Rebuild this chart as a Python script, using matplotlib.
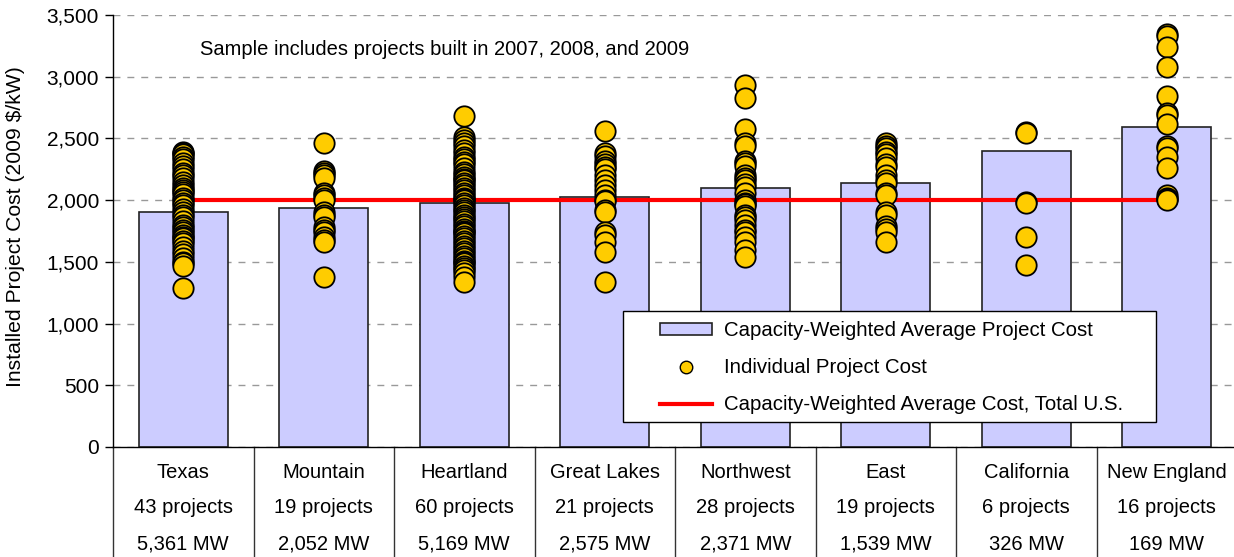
import matplotlib
matplotlib.use("Agg")
import matplotlib.pyplot as plt
from matplotlib import transforms
from matplotlib.lines import Line2D
from matplotlib.patches import Patch, Rectangle
from matplotlib.ticker import FuncFormatter

plt.rcParams["font.family"] = ["Liberation Sans", "DejaVu Sans"]

# --- data ---
regions = ["Texas", "Mountain", "Heartland", "Great Lakes", "Northwest",
           "East", "California", "New England"]
n_projects = ["43 projects", "19 projects", "60 projects", "21 projects",
              "28 projects", "19 projects", "6 projects", "16 projects"]
capacity = ["5,361 MW", "2,052 MW", "5,169 MW", "2,575 MW", "2,371 MW",
            "1,539 MW", "326 MW", "169 MW"]
avg_cost = [1900, 1940, 1975, 2025, 2100, 2140, 2400, 2590]
us_avg = 2000

texas = [2390, 2380, 2370, 2350, 2330, 2300, 2280, 2250, 2220, 2200, 2180,
         2150, 2120, 2100, 2080, 2070, 2050, 2020, 2000, 1980, 1960, 1930,
         1900, 1880, 1860, 1830, 1800, 1780, 1760, 1740, 1720, 1700, 1690,
         1670, 1650, 1620, 1590, 1560, 1530, 1500, 1490, 1470, 1290]
mountain = [2460, 2240, 2220, 2200, 2180, 2060, 2040, 2020, 2000, 1900,
            1880, 1860, 1780, 1760, 1740, 1700, 1680, 1660, 1380]
heartland = [2680, 2510, 2490, 2460, 2440, 2410, 2380, 2350, 2330, 2310,
             2290, 2260, 2230, 2210, 2190, 2170, 2160, 2140, 2120, 2100,
             2080, 2060, 2040, 2020, 2010, 2000, 1980, 1960, 1940, 1920,
             1900, 1880, 1860, 1850, 1830, 1810, 1790, 1770, 1750, 1740,
             1730, 1710, 1690, 1670, 1650, 1630, 1610, 1590, 1570, 1550,
             1530, 1510, 1500, 1490, 1470, 1450, 1430, 1410, 1380, 1340]
great_lakes = [2560, 2380, 2360, 2320, 2290, 2270, 2250, 2200, 2160, 2120,
               2080, 2040, 2000, 1990, 1920, 1900, 1740, 1720, 1660, 1580,
               1340]
northwest = [2930, 2830, 2580, 2460, 2440, 2320, 2300, 2280, 2200, 2180,
             2160, 2130, 2110, 2060, 2000, 1980, 1970, 1950, 1880, 1860,
             1840, 1800, 1760, 1740, 1700, 1660, 1600, 1540]
east = [2460, 2440, 2420, 2390, 2370, 2340, 2290, 2270, 2200, 2160, 2140,
        2060, 2040, 1900, 1880, 1790, 1770, 1740, 1660]
california = [2555, 2540, 1985, 1980, 1700, 1475]
new_england = [3350, 3330, 3240, 3080, 2840, 2710, 2690, 2620, 2440, 2420,
               2350, 2260, 2040, 2020, 2010, 2005]
project_costs = [texas, mountain, heartland, great_lakes, northwest, east,
                 california, new_england]

x = list(range(len(regions)))

fig = plt.figure(figsize=(12.34, 5.57), dpi=100)
ax = fig.add_axes([113 / 1234, 1 - 447 / 557, 1124 / 1234, 432 / 557])

ax.bar(x, avg_cost, width=0.63, color="#CCCCFF", edgecolor="#222222",
       linewidth=1.2, zorder=2)
ax.plot([x[0], x[-1]], [us_avg, us_avg], color="#FF0000", lw=3, zorder=3)
for i, vals in enumerate(project_costs):
    ax.scatter([i] * len(vals), vals, s=215, color="#FFCC00",
               edgecolor="black", linewidth=1.3, zorder=4)

ax.set_xlim(-0.5, len(regions) - 0.5)
ax.set_ylim(0, 3500)
ax.set_yticks(range(0, 3501, 500))
ax.yaxis.set_major_formatter(FuncFormatter(lambda v, p: f"{int(v):,}"))
ax.tick_params(axis="y", labelsize=15, length=6, width=1, pad=4)
ax.set_xticks([])
ax.grid(axis="y", color="#999999", linestyle=(0, (5, 5)), lw=1, zorder=0)
ax.set_axisbelow(True)
for side in ["top", "right"]:
    ax.spines[side].set_visible(False)
ax.spines["left"].set_linewidth(1)
ax.spines["bottom"].set_linewidth(1)
ax.set_ylabel("Installed Project Cost (2009 $/kW)", fontsize=15.2,
              va="center")
ax.yaxis.set_label_coords(-0.087, 0.51)

# table of region labels below the axis
trans = transforms.blended_transform_factory(ax.transData, ax.transAxes)
for b in [i - 0.5 for i in range(len(regions) + 1)]:
    ax.plot([b, b], [0, -0.3], color="#333333", lw=1, transform=trans,
            clip_on=False)
for i in x:
    ax.text(i, -0.058, regions[i], transform=trans, ha="center",
            va="center", fontsize=14.5)
    ax.text(i, -0.141, n_projects[i], transform=trans, ha="center",
            va="center", fontsize=14.5)
    ax.text(i, -0.225, capacity[i], transform=trans, ha="center",
            va="center", fontsize=14.5)

ax.text(0.077, 0.921, "Sample includes projects built in 2007, 2008, and 2009",
        transform=ax.transAxes, ha="left", va="center", fontsize=14.5)

# legend: frame drawn separately so the inner padding matches
fig.patches.append(Rectangle((623 / 1234, 1 - 422 / 557), 533 / 1234,
                             111 / 557, transform=fig.transFigure,
                             facecolor="white", edgecolor="black", lw=1,
                             zorder=9))
handles = [
    Patch(facecolor="#CCCCFF", edgecolor="#222222", linewidth=1.2),
    Line2D([], [], marker="o", linestyle="none", markersize=9,
           markerfacecolor="#FFCC00", markeredgecolor="black"),
    Line2D([], [], color="#FF0000", lw=3),
]
labels = ["Capacity-Weighted Average Project Cost", "Individual Project Cost",
          "Capacity-Weighted Average Cost, Total U.S."]
leg = fig.legend(handles, labels, loc="upper left",
                 bbox_to_anchor=(660 / 1234, 1 - 321 / 557), fontsize=14.7,
                 frameon=False, borderpad=0, labelspacing=0.89,
                 handlelength=2.53, handleheight=0.5, handletextpad=0.6,
                 borderaxespad=0)
leg.set_zorder(10)

fig.savefig("out.png", dpi=100)
